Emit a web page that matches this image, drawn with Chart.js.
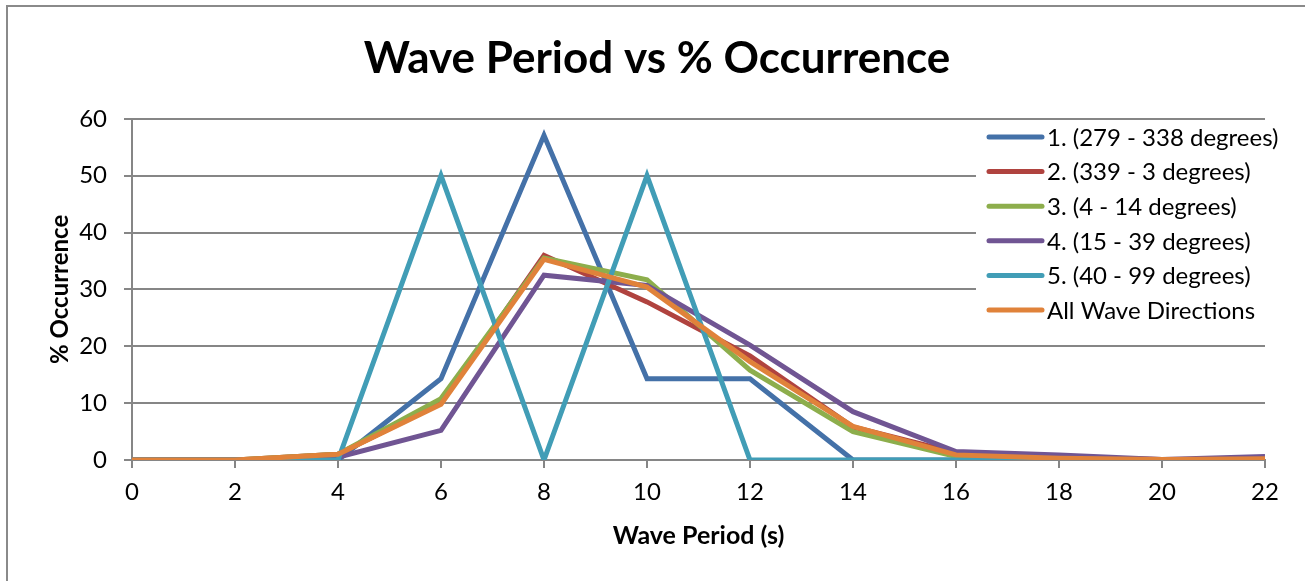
<!DOCTYPE html>
<html>
<head>
<meta charset="utf-8">
<script src="https://cdn.jsdelivr.net/npm/chart.js@4.4.1/dist/chart.umd.min.js"></script>
<style>
  body { margin: 0; background: #fff; }
  #wrap { position: relative; width: 1305px; height: 581px; overflow: hidden; }
  #frame { position: absolute; left: 6px; top: 5px; width: 1400px; height: 700px; border: 2px solid #8a8a8a; }
  #waveChart { position: absolute; left: 0; top: 0; }
</style>
</head>
<body>
<div id="wrap">
  <div id="frame"></div>
  <canvas id="waveChart" width="1305" height="581"></canvas>
</div>
<script>
const periods = [0, 2, 4, 6, 8, 10, 12, 14, 16, 18, 20, 22];

const seriesNames = [
  '1. (279 - 338 degrees)',
  '2. (339 - 3 degrees)',
  '3. (4 - 14 degrees)',
  '4. (15 - 39 degrees)',
  '5. (40 - 99 degrees)',
  'All Wave Directions',
];

const dir1 = [0, 0, 0, 14.3, 57.1, 14.3, 14.3, 0, 0, 0, 0, 0];
const dir2 = [0, 0, 1.0, 10.0, 36.0, 27.8, 18.3, 5.8, 1.3, 0.5, 0.1, 0.1];
const dir3 = [0, 0, 1.0, 10.8, 35.5, 31.7, 15.8, 5.0, 0.6, 0.2, 0, 0];
const dir4 = [0, 0, 0.5, 5.2, 32.5, 30.7, 20.2, 8.5, 1.5, 0.9, 0.1, 0.6];
const dir5 = [0, 0, 0, 50, 0, 50, 0, 0, 0, 0, 0, 0];
const allDirs = [0, 0, 1.0, 9.8, 35.3, 30.4, 17.3, 5.9, 0.9, 0.3, 0.1, 0.2];

const lineColors = ['#4471A8', '#B0433F', '#8DAE4C', '#705593', '#419DB6', '#E0823A'];

const allSeries = [dir1, dir2, dir3, dir4, dir5, allDirs];

const fontFam = 'Lato, "Open Sans", sans-serif';

// legend sits on top of the plot area, with a white box behind it
const boxLegend = {
  id: 'boxLegend',
  beforeDatasetsDraw(chart) {
    const ctx = chart.ctx;
    ctx.save();
    ctx.fillStyle = '#fff';
    ctx.fillRect(976, 123, 320, 205);
    ctx.font = '24px ' + fontFam;
    ctx.textBaseline = 'middle';
    ctx.textAlign = 'left';
    chart.data.datasets.forEach((ds, i) => {
      const y = 137 + i * 34.6;
      ctx.strokeStyle = ds.borderColor;
      ctx.lineWidth = 5;
      ctx.lineCap = 'round';
      ctx.beginPath();
      ctx.moveTo(989, y);
      ctx.lineTo(1042, y);
      ctx.stroke();
      ctx.fillStyle = '#000';
      ctx.fillText(ds.label, 1047, y + 1);
    });
    ctx.restore();
  },
};

new Chart(document.getElementById('waveChart'), {
  type: 'line',
  data: {
    datasets: allSeries.map((vals, i) => ({
      label: seriesNames[i],
      data: vals.map((v, j) => ({ x: periods[j], y: v })),
      borderColor: lineColors[i],
      backgroundColor: lineColors[i],
      borderWidth: 5,
      pointRadius: 0,
      tension: 0,
      order: allSeries.length - i,
    })),
  },
  options: {
    responsive: false,
    animation: false,
    layout: { padding: { left: 9, right: 0, top: 0, bottom: 0 } },
    plugins: {
      legend: { display: false },
      tooltip: { enabled: false },
      title: {
        display: true,
        text: 'Wave Period vs % Occurrence',
        color: '#000',
        font: { family: fontFam, size: 44, weight: 'bold' },
        padding: { top: 32, bottom: 34 },
      },
    },
    scales: {
      x: {
        type: 'linear',
        min: 0,
        max: 22,
        ticks: {
          stepSize: 2,
          color: '#000',
          padding: 10,
          font: { family: fontFam, size: 24 },
        },
        grid: { display: true, drawOnChartArea: false, color: '#868686', lineWidth: 2, tickLength: 8 },
        border: { color: '#868686', width: 2 },
        title: {
          display: true,
          text: 'Wave Period (s)',
          color: '#000',
          font: { family: fontFam, size: 25, weight: 'bold' },
          padding: { top: 0, bottom: 30 },
        },
        afterFit(scale) { scale.height = 121; },
      },
      y: {
        min: 0,
        max: 60,
        ticks: {
          stepSize: 10,
          color: '#000',
          padding: 17,
          font: { family: fontFam, size: 24 },
        },
        grid: { color: '#868686', lineWidth: 2, tickLength: 8 },
        border: { color: '#868686', width: 2 },
        title: {
          display: true,
          text: '% Occurrence',
          color: '#000',
          font: { family: fontFam, size: 24, weight: 'bold' },
          padding: { top: 37, bottom: 0 },
        },
        afterFit(scale) { scale.width = 123; },
      },
      // empty right axis, only reserves space right of the plot
      yRight: {
        position: 'right',
        min: 0,
        max: 60,
        ticks: { display: false },
        grid: { display: false },
        border: { display: false },
        afterFit(scale) { scale.width = 40; },
      },
    },
  },
  plugins: [boxLegend],
});
</script>
</body>
</html>
